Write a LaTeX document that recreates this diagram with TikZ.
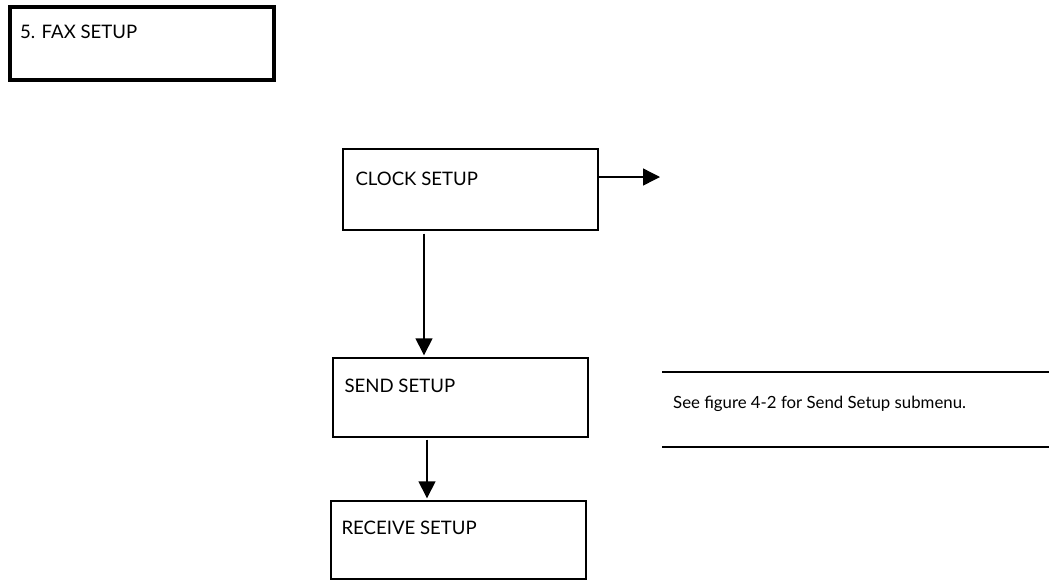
\documentclass[tikz,border=0pt]{standalone}
\usepackage{fontspec}
\setmainfont{Lato}
\usetikzlibrary{arrows.meta,calc}
\begin{document}
\begin{tikzpicture}[x=1pt,y=1pt,
  box/.style={draw=black,line width=1.4pt,rectangle,inner sep=0pt,minimum width=255pt,minimum height=80pt},
  thickbox/.style={draw=black,line width=4pt,rectangle,inner sep=0pt,minimum width=264pt,minimum height=73pt},
  lbl/.style={font=\fontsize{18.6}{22}\selectfont,inner sep=0pt,anchor=base west},
  notelbl/.style={font=\fontsize{16.8}{20}\selectfont,inner sep=0pt,anchor=base west},
  arr/.style={line width=1.4pt,-{Triangle[length=17pt,width=17pt]}},
  rule/.style={line width=1.4pt}]
\useasboundingbox (0,0) rectangle (1049,-582);
% boxes (centres)
\node[thickbox] (fax) at (142,-43.5) {};
\node[box,minimum width=255pt,minimum height=81pt] (clock) at (470.5,-189.5) {};
\node[box,minimum width=255pt,minimum height=79pt] (send) at (460.5,-397.5) {};
\node[box,minimum width=255pt,minimum height=78pt] (recv) at (458.5,-540) {};
% texts
\node[lbl] (faxt) at ($(fax.north west)+(12,-33)$) {5. FAX SETUP};
\node[lbl] (clockt) at ($(clock.north west)+(13,-37)$) {CLOCK SETUP};
\node[lbl] (sendt) at ($(send.north west)+(12,-35)$) {SEND SETUP};
\node[lbl] (recvt) at ($(recv.north west)+(11,-34)$) {RECEIVE SETUP};
% note
\coordinate (ntl) at (662,-372);
\coordinate (ntr) at (1049,-372);
\coordinate (nbl) at (662,-447);
\coordinate (nbr) at (1049,-447);
\draw[rule] (ntl) -- (ntr);
\draw[rule] (nbl) -- (nbr);
\node[notelbl] (note) at (673,-408) {See f{}igure 4-2 for Send Setup submenu.};
% connectors
\coordinate (cout) at (660,-177);
\draw[arr] ([yshift=12.5pt,xshift=-1pt]clock.east) -- (cout);
\draw[arr] ([xshift=-46.5pt,yshift=-3pt]clock.south) -- ([xshift=-46.5pt,yshift=2pt]clock.south |- send.north);
\draw[arr] ([xshift=-33.5pt,yshift=-2pt]send.south) -- ([xshift=-33.5pt,yshift=2pt]send.south |- recv.north);
\end{tikzpicture}
\end{document}
